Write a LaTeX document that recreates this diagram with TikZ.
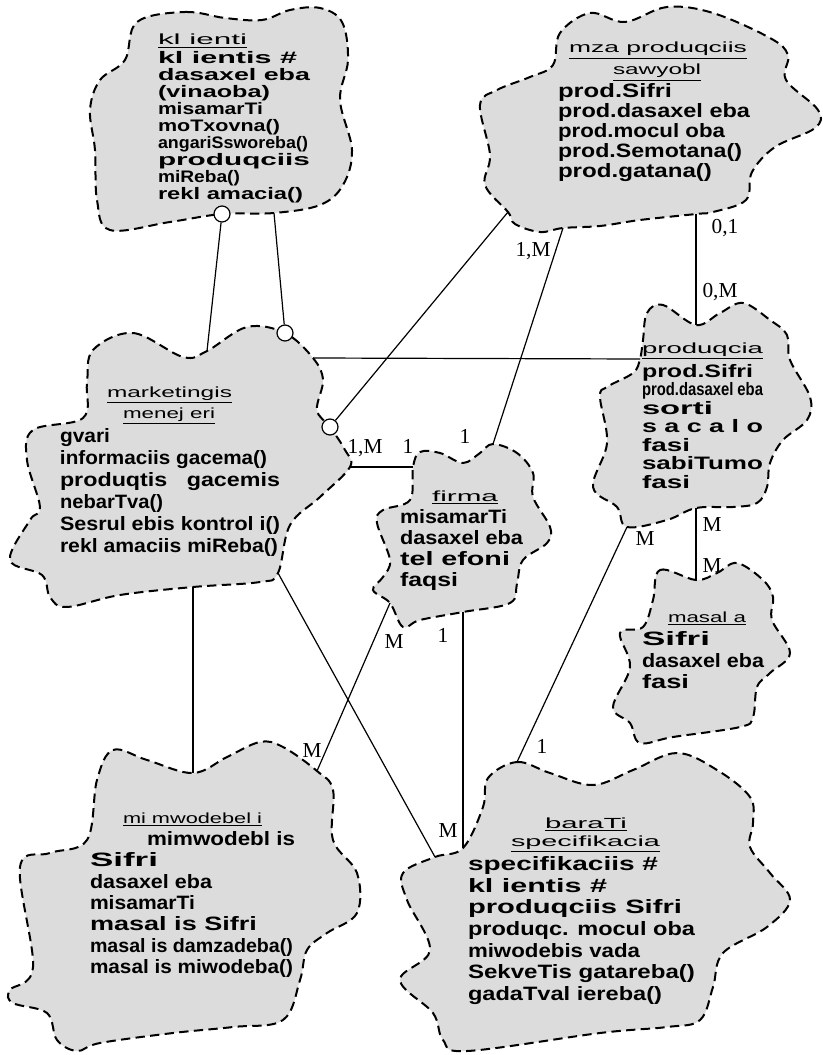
\documentclass[tikz,border=0pt]{standalone}
\usepackage{fontspec}
\usepackage{graphicx}
\setmainfont{Liberation Serif}
\newfontfamily\sansf{Liberation Sans}
\newlength\pxu \setlength\pxu{0.75pt}
\newcommand\fw[2]{\resizebox{#1\pxu}{\height}{#2}}
\newcommand\bline[4]{\node[body, anchor=base west] (#1) at (#2) {\fw{#3}{#4}};}
\newcommand\tline[4]{\node[ttl, anchor=base west] (#1) at (#2) {\underline{\fw{#3}{#4}}};}
\definecolor{blobgray}{RGB}{220,220,220}
\begin{document}
\begin{tikzpicture}[x=0.75pt,y=-0.75pt,
  blob/.style={draw=black, fill=blobgray, line width=1.5pt, dash pattern=on 7pt off 4pt},
  body/.style={inner sep=0pt, outer sep=0pt, font=\sansf\bfseries\fontsize{14.5}{15}\selectfont},
  ttl/.style={inner sep=0pt, outer sep=0pt, font=\sansf\fontsize{11}{12}\selectfont},
  lbl/.style={inner sep=0pt, anchor=base, font=\fontsize{16}{17}\selectfont},
  conn/.style={line width=0.9pt},
  ocirc/.style={circle, draw, fill=white, line width=0.9pt, minimum size=12pt, inner sep=0pt}]
\useasboundingbox (0,0) rectangle (823,1055);

% blobs
\draw[blob] plot[smooth cycle, tension=0.6] coordinates {(137,22) (185,12) (225,18) (262,20) (290,10) (320,8) (342,22) (348,60) (340,100) (352,150) (343,185) (320,205) (274,213) (222,214) (170,222) (110,230) (97,200) (95,150) (90,110) (100,80) (125,60)};
\draw[blob] plot[smooth cycle, tension=0.6] coordinates {(560,33) (590,13) (625,22) (667,7) (713,13) (770,38) (788,55) (786,80) (818,110) (815,128) (775,147) (752,172) (746,200) (713,212) (696,214) (640,220) (600,226) (563,228) (540,232) (515,224) (508,212) (485,185) (490,155) (480,105) (497,90) (530,77) (553,65)};
\draw[blob] plot[smooth cycle, tension=0.6] coordinates {(93,350) (133,333) (183,357) (207,351) (247,327) (285,333) (313,358) (323,380) (317,410) (330,427) (345,450) (350,467) (320,497) (290,525) (278,573) (260,582) (193,587) (120,595) (67,607) (50,597) (42,575) (10,560) (30,520) (40,507) (27,460) (33,430) (83,418) (87,383)};
\draw[blob] plot[smooth cycle, tension=0.6] coordinates {(413,467) (420,452) (440,453) (463,463) (480,453) (493,444) (517,453) (533,473) (533,497) (550,527) (547,543) (523,560) (517,583) (510,603) (463,612) (420,620) (403,627) (390,603) (373,590) (383,577) (390,560) (377,523) (383,510) (410,500)};
\draw[blob] plot[smooth cycle, tension=0.6] coordinates {(643,340) (647,313) (663,305) (696,325) (720,313) (743,303) (770,320) (787,335) (790,360) (810,397) (807,420) (783,440) (770,463) (767,487) (757,503) (733,507) (696,508) (667,520) (627,527) (617,507) (593,487) (607,443) (600,397) (607,387) (633,373) (640,359)};
\draw[blob] plot[smooth cycle, tension=0.6] coordinates {(653,600) (660,570) (696,580) (717,573) (737,563) (763,580) (773,597) (772,620) (790,653) (770,673) (757,687) (753,717) (740,727) (673,737) (640,743) (630,723) (613,707) (630,667) (620,633) (643,627)};
\draw[blob] plot[smooth cycle, tension=0.6] coordinates {(97,780) (113,750) (147,760) (193,773) (227,757) (260,742) (283,747) (317,771) (333,790) (333,840) (357,873) (357,913) (327,933) (307,950) (300,980) (283,1020) (233,1027) (173,1033) (100,1043) (77,1051) (57,1040) (47,1013) (13,1003) (10,990) (33,967) (20,867) (50,853) (87,840)};
\draw[blob] plot[smooth cycle, tension=0.6] coordinates {(488,778) (517,762) (550,773) (593,785) (633,770) (677,753) (717,770) (750,797) (753,823) (750,847) (770,873) (790,900) (767,927) (723,953) (713,987) (700,1020) (667,1027) (600,1033) (467,1051) (443,1040) (433,1013) (400,980) (430,950) (407,900) (403,873) (435,857) (463,848) (483,807)};

% connector end points
\coordinate (mTop) at (207,351);
\coordinate (kB) at (274,213);
\coordinate (mR1) at (313,358);
\coordinate (pL) at (640,359);
\coordinate (zL) at (508,212);
\coordinate (zB1) at (563,228);
\coordinate (fT) at (493,444);
\coordinate (zB2) at (696,214);
\coordinate (pT) at (696,325);
\coordinate (mR2) at (350,467);
\coordinate (fL) at (413,467);
\coordinate (pB) at (696,508);
\coordinate (sT) at (696,580);
\coordinate (pBL) at (627,527);
\coordinate (bT) at (517,762);
\coordinate (fB) at (463,612);
\coordinate (bL1) at (463,848);
\coordinate (fBL) at (390,603);
\coordinate (wT) at (317,771);
\coordinate (mB) at (193,587);
\coordinate (wT2) at (193,773);
\coordinate (mBR) at (278,573);
\coordinate (bL2) at (435,857);

\node[ocirc] (c1) at (222,214) {};
\node[ocirc] (c2) at (285,333) {};
\node[ocirc] (c3) at (330,427) {};

% connectors
\draw[conn] (c1) -- (mTop);
\draw[conn] (kB) -- (c2);
\draw[conn] (mR1) -- (pL);
\draw[conn] (c3) -- (zL);
\draw[conn] (zB1) -- (fT);
\draw[conn] (zB2) -- (pT);
\draw[conn] (mR2) -- (fL);
\draw[conn] (pB) -- (sT);
\draw[conn] (pBL) -- (bT);
\draw[conn] (fB) -- (bL1);
\draw[conn] (fBL) -- (wT);
\draw[conn] (mB) -- (wT2);
\draw[conn] (mBR) -- (bL2);

% multiplicity labels
\node[lbl] (l1) at (533,257) {1,M};
\node[lbl] (l2) at (465,443) {1};
\node[lbl] (l3) at (725,234) {0,1};
\node[lbl] (l4) at (720,297) {0,M};
\node[lbl] (l5) at (365,453) {1,M};
\node[lbl] (l6) at (408,453) {1};
\node[lbl] (l7) at (712,531) {M};
\node[lbl] (l8) at (712,572) {M};
\node[lbl] (l9) at (645,545) {M};
\node[lbl] (l10) at (542,753) {1};
\node[lbl] (l11) at (443,642) {1};
\node[lbl] (l12) at (448,837) {M};
\node[lbl] (l13) at (394,648) {M};
\node[lbl] (l14) at (312,757) {M};

% klienti
\begin{scope}[body/.style={inner sep=0pt, outer sep=0pt, font=\sansf\bfseries\fontsize{12.5}{13}\selectfont}]
\tline{kt}{158,45}{89}{kl ienti}
\bline{k1}{158,64}{139}{kl ientis \#}
\bline{k2}{158,81}{152}{dasaxel eba}
\bline{k3}{158,98}{112}{(vinaoba)}
\bline{k4}{158,115}{105}{misamarTi}
\bline{k5}{158,132}{122}{moTxovna()}
\bline{k6}{158,149}{150}{angariSsworeba()}
\bline{k7}{158,166}{152}{produqciis}
\bline{k8}{158,183}{82}{miReba()}
\bline{k9}{158,200}{145}{rekl amacia()}
\end{scope}

% mza produqciis sawyobl
\tline{zt1}{569,53}{178}{mza produqciis}
\tline{zt2}{613,75}{88}{sawyobl}
\bline{z1}{558,98}{114}{prod.Sifri}
\bline{z2}{558,118}{192}{prod.dasaxel eba}
\bline{z3}{558,138}{167}{prod.mocul oba}
\bline{z4}{558,158}{184}{prod.Semotana()}
\bline{z5}{558,178}{154}{prod.gatana()}

% marketingis menejeri
\tline{mt1}{107,397}{125}{marketingis}
\tline{mt2}{123,418}{92}{menej eri}
\bline{m1}{60,442}{50}{gvari}
\bline{m2}{60,464}{207}{informaciis gacema()}
\bline{m3}{60,486}{220}{produqtis \ \ gacemis}
\bline{m4}{60,508}{103}{nebarTva()}
\bline{m5}{60,530}{220}{Sesrul ebis kontrol i()}
\bline{m6}{60,552}{218}{rekl amaciis miReba()}

% firma
\tline{ft}{432,501}{66}{firma}
\bline{f1}{400,523}{107}{misamarTi}
\bline{f2}{400,544}{123}{dasaxel eba}
\bline{f3}{400,565}{110}{tel efoni}
\bline{f4}{400,586}{58}{faqsi}

% produqcia
\begin{scope}[body/.style={inner sep=0pt, outer sep=0pt, font=\sansf\bfseries\fontsize{13.5}{14}\selectfont}]
\tline{pt}{642,353}{121}{produqcia}
\bline{p1}{642,377}{111}{prod.Sifri}
\bline{p2}{642,395}{121}{prod.dasaxel eba}
\bline{p3}{642,414}{71}{sorti}
\bline{p4}{642,432}{121}{s a c a l o}
\bline{p5}{642,451}{48}{fasi}
\bline{p6}{642,469}{121}{sabiTumo}
\bline{p7}{642,488}{48}{fasi}
\end{scope}

% masala
\tline{st}{668,622}{78}{masal a}
\bline{s1}{642,645}{68}{Sifri}
\bline{s2}{642,667}{122}{dasaxel eba}
\bline{s3}{642,688}{47}{fasi}

% mimwodebeli
\tline{wt}{123,823}{139}{mi mwodebel i}
\bline{w0}{147,845}{148}{mimwodebl is}
\bline{w1}{90,866}{68}{Sifri}
\bline{w2}{90,888}{122}{dasaxel eba}
\bline{w3}{90,909}{105}{misamarTi}
\bline{w4}{90,930}{167}{masal is Sifri}
\bline{w5}{90,952}{203}{masal is damzadeba()}
\bline{w6}{90,973}{203}{masal is miwodeba()}

% baraTi specifikacia
\tline{bt1}{545,828}{82}{baraTi}
\tline{bt2}{511,846}{149}{specifikacia}
\bline{b1}{468,870}{190}{specifikaciis \#}
\bline{b2}{468,892}{139}{kl ientis \#}
\bline{b3}{468,913}{214}{produqciis Sifri}
\bline{b4}{468,935}{227}{produqc. mocul oba}
\bline{b5}{468,957}{172}{miwodebis vada}
\bline{b6}{468,978}{227}{SekveTis gatareba()}
\bline{b7}{468,1000}{194}{gadaTval iereba()}
\end{tikzpicture}
\end{document}
